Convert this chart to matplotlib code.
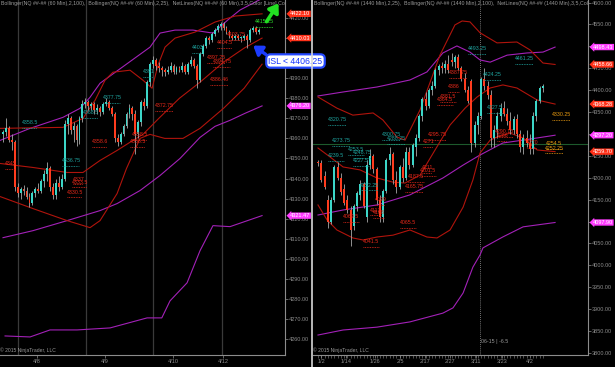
import matplotlib
matplotlib.use('Agg')
import matplotlib.pyplot as plt
from matplotlib.lines import Line2D
from matplotlib.ticker import FuncFormatter, MultipleLocator, FixedLocator
import numpy as np

plt.rcParams['font.family'] = ['Liberation Sans', 'DejaVu Sans']

# ---------------- data: 60 min panel (left) ----------------
l_open = [4362, 4363, 4365, 4359, 4358, 4336, 4333, 4335, 4334, 4331, 4328, 4333, 4335, 4334, 4339, 4342,
          4345, 4336, 4332, 4338, 4336, 4340, 4367, 4370, 4364, 4366, 4359, 4370, 4377, 4378, 4376, 4377,
          4374, 4375, 4373, 4377, 4378, 4375, 4372, 4360, 4358, 4362, 4366, 4372, 4375, 4372, 4362, 4368,
          4378, 4376, 4388, 4397, 4399, 4396, 4395, 4394, 4393, 4394, 4396, 4393, 4395, 4394, 4396, 4393,
          4397, 4399, 4396, 4389, 4402, 4406, 4410, 4409, 4412, 4414, 4416, 4417, 4415, 4413, 4411, 4410,
          4411, 4410, 4410, 4411, 4409, 4414, 4415, 4413]
l_high = [4364, 4370, 4366, 4362, 4359, 4338, 4336, 4337, 4336, 4333, 4334, 4336, 4338, 4340, 4344, 4348,
          4346, 4338, 4340, 4341, 4342, 4369, 4372, 4371, 4368, 4367, 4371, 4379, 4380, 4379, 4378, 4378,
          4377, 4376, 4378, 4380, 4379, 4376, 4373, 4362, 4363, 4367, 4373, 4377, 4376, 4374, 4369, 4379,
          4380, 4389, 4398, 4401, 4400, 4398, 4396, 4395, 4396, 4398, 4397, 4396, 4396, 4398, 4397, 4398,
          4401, 4400, 4397, 4403, 4407, 4411, 4411, 4413, 4415, 4417, 4418, 4418, 4416, 4414, 4412, 4412,
          4412, 4411, 4412, 4412, 4415, 4416, 4416, 4415]
l_low = [4358, 4361, 4358, 4354, 4334, 4331, 4330, 4332, 4330, 4326, 4327, 4331, 4333, 4333, 4336, 4339,
         4334, 4330, 4330, 4334, 4335, 4339, 4362, 4362, 4358, 4356, 4357, 4368, 4375, 4374, 4374, 4372,
         4372, 4371, 4372, 4376, 4374, 4371, 4358, 4356, 4357, 4361, 4365, 4370, 4369, 4352, 4360, 4366,
         4374, 4375, 4386, 4395, 4394, 4393, 4391, 4391, 4392, 4393, 4392, 4392, 4393, 4393, 4392, 4392,
         4396, 4395, 4385, 4388, 4401, 4405, 4407, 4408, 4411, 4413, 4414, 4414, 4412, 4410, 4409, 4409,
         4409, 4408, 4409, 4405, 4408, 4413, 4412, 4412]
l_close = [4363, 4365, 4359, 4358, 4336, 4333, 4335, 4334, 4331, 4328, 4333, 4335, 4334, 4339, 4342, 4345,
           4336, 4332, 4338, 4336, 4340, 4367, 4370, 4364, 4366, 4359, 4370, 4377, 4378, 4376, 4377, 4374,
           4375, 4373, 4377, 4378, 4375, 4372, 4360, 4358, 4362, 4366, 4372, 4375, 4372, 4362, 4368, 4378,
           4376, 4388, 4397, 4399, 4396, 4395, 4394, 4393, 4394, 4396, 4393, 4395, 4394, 4396, 4393, 4397,
           4399, 4396, 4389, 4402, 4406, 4410, 4409, 4412, 4414, 4416, 4417, 4415, 4413, 4411, 4410, 4411,
           4410, 4410, 4411, 4409, 4414, 4415, 4413, 4414]

# bollinger (2,100) purple and (2,25) red, read as (bar, price)
l_bb100_up = [(-1, 4359), (9.2, 4365), (20.4, 4370.5), (26.2, 4375), (29.6, 4380.5), (33, 4387.5), (41.5, 4396.5),
              (50, 4405.5), (53.4, 4412.5), (58.5, 4414), (64.6, 4414), (71.4, 4412.5), (77.2, 4420), (80.6, 4424), (88.4, 4430)]
l_bb100_mid = [(0, 4310.5), (10.2, 4314), (21.8, 4319), (33, 4324), (38.8, 4327.5), (46.6, 4334), (53.4, 4341.5),
               (60.2, 4350), (67, 4360.5), (72.1, 4366), (77.2, 4369), (82.3, 4372.5), (88.1, 4376.2)]
l_bb100_low = [(0.7, 4261.5), (9.2, 4261), (16, 4264.5), (25.2, 4264.5), (36.4, 4265.5), (49, 4270.5), (54, 4270.5),
               (56.8, 4279), (62.6, 4288), (67, 4304), (71.4, 4316.5), (77.2, 4316), (88.1, 4321.5)]
l_bb25_up = [(-1, 4365), (20.4, 4365.5), (27.2, 4370), (31.3, 4379), (34.7, 4389), (37.4, 4393), (43.2, 4394),
             (47.6, 4389), (50.7, 4385), (52.7, 4396.5), (55.1, 4405.5), (58.5, 4410), (65.3, 4413), (72.1, 4418),
             (78.9, 4421), (88.1, 4422.1)]
l_bb25_mid = [(-1, 4347.5), (10.2, 4345.5), (21.8, 4343), (27.2, 4343), (33, 4349), (38.8, 4354), (44.2, 4359),
              (47.6, 4362), (53, 4370), (60, 4380), (67, 4388), (75, 4398), (82, 4405), (88.1, 4410)]
l_bb25_low = [(-1, 4331), (10.2, 4325), (21.8, 4319), (29.6, 4315.5), (33, 4319), (38.8, 4332.5), (42, 4345),
              (46.6, 4360), (50, 4362), (55, 4360), (61.2, 4360), (67, 4365), (75, 4375), (82, 4385), (88.1, 4397)]

l_day_breaks = [5.1, 28.2, 51, 74.5]
l_date_pos = [11.6, 34.7, 57.8, 74.8]
l_date_txt = ['4/8', '4/9', '4/10', '4/12']

l_netlines = [  # (bar, price, text, colour)
    (85.7, 4417, '4415.25', 'g'), (76.2, 4410.5, '4403.75', 'r'), (72.8, 4406.5, '4404.5', 'r'),
    (69.4, 4399, '4397.25', 'r'), (71.4, 4397, '4394.75', 'r'), (64.3, 4404, '4403', 't'),
    (47.6, 4392, '4391', 't'), (70.4, 4388, '4386.46', 'r'), (34, 4379, '4377.75', 't'),
    (27.2, 4371.5, '4368.5', 't'), (51.7, 4375, '4372.75', 'r'), (6.5, 4366.5, '4358.5', 't'),
    (30.3, 4357, '4358.6', 'r'), (43.9, 4360.5, '4358.5', 'r'), (43.2, 4357, '4358.5', 'r'),
    (0.7, 4346, '4345', 'r'), (20, 4347.5, '4336.75', 't'), (23.8, 4338.5, '4337', 'r'),
    (23.5, 4337, '4333.5', 'r'), (21.8, 4332, '4330.5', 'r')]
l_flags = [(4422.10, 'r'), (4410.03, 'r'), (4376.20, 'm'), (4321.47, 'm')]

# ---------------- data: 1440 min panel (right) ----------------
r_open = [4236, 4234, 4205, 4150, 4100, 4150, 4225, 4200, 4175, 4150, 4127, 4090, 4135, 4160, 4185, 4110,
          4230, 4250, 4220, 4150, 4110, 4170, 4240, 4255, 4195, 4180, 4225, 4200, 4260, 4230, 4270, 4290,
          4340, 4380, 4365, 4400, 4410, 4445, 4455, 4450, 4460, 4470, 4465, 4475, 4450, 4425, 4400, 4420,
          4280, 4320, 4340, 4425, 4410, 4390, 4290, 4310, 4340, 4360, 4345, 4330, 4310, 4335, 4300, 4270,
          4290, 4280, 4265, 4340, 4375, 4405]
r_high = [4240, 4240, 4215, 4160, 4155, 4230, 4235, 4210, 4185, 4160, 4135, 4140, 4170, 4195, 4190, 4240,
          4265, 4255, 4225, 4160, 4175, 4245, 4270, 4260, 4215, 4230, 4245, 4270, 4270, 4280, 4300, 4345,
          4385, 4395, 4405, 4420, 4450, 4460, 4465, 4470, 4480, 4485, 4480, 4482, 4455, 4440, 4410, 4425,
          4330, 4350, 4430, 4450, 4420, 4400, 4320, 4350, 4370, 4375, 4360, 4350, 4340, 4345, 4310, 4300,
          4310, 4300, 4350, 4380, 4410, 4415]
r_low = [4228, 4190, 4175, 4085, 4095, 4145, 4195, 4160, 4138, 4120, 4045, 4080, 4125, 4150, 4130, 4100,
         4220, 4210, 4140, 4100, 4100, 4165, 4230, 4185, 4165, 4175, 4190, 4195, 4220, 4225, 4250, 4285,
         4330, 4355, 4360, 4390, 4405, 4435, 4440, 4440, 4440, 4455, 4450, 4445, 4420, 4395, 4370, 4260,
         4270, 4300, 4335, 4400, 4380, 4270, 4270, 4290, 4330, 4340, 4320, 4300, 4300, 4290, 4260, 4255,
         4270, 4255, 4255, 4330, 4370, 4395]
r_close = [4234, 4195, 4180, 4100, 4150, 4225, 4200, 4168, 4143, 4127, 4080, 4135, 4165, 4185, 4135, 4230,
           4250, 4220, 4150, 4110, 4170, 4240, 4255, 4195, 4180, 4225, 4200, 4260, 4230, 4275, 4290, 4340,
           4380, 4365, 4400, 4410, 4445, 4455, 4450, 4460, 4445, 4465, 4475, 4450, 4425, 4400, 4375, 4280,
           4320, 4340, 4425, 4410, 4390, 4290, 4310, 4340, 4360, 4345, 4330, 4310, 4335, 4300, 4270, 4290,
           4280, 4265, 4340, 4375, 4405, 4410]

r_bb100_up = [(0, 4386.8), (7.7, 4395.9), (18.1, 4407.3), (28.2, 4423.3), (33.4, 4441.6), (38.3, 4485), (42.6, 4501),
              (46.6, 4487), (49.7, 4469), (52.8, 4464), (58, 4480), (64.1, 4485), (69, 4487), (72.7, 4498.4)]
r_bb100_mid = [(0, 4115), (7.7, 4126.5), (18.1, 4138), (28.2, 4161), (38.3, 4199.5), (44.5, 4229), (49.7, 4252),
               (56.7, 4279.5), (62.9, 4286), (72.7, 4297.2)]
r_bb100_low = [(0, 3841), (7.7, 3852.5), (18.1, 3859), (28.2, 3871), (38.3, 3891), (41.4, 3903), (44.5, 3937),
               (47.5, 3996), (49.7, 4024), (50.6, 4040), (56.7, 4065), (62.9, 4088), (72.7, 4097.9)]
r_bb25_up = [(0, 4384.5), (5.8, 4359), (10.7, 4343), (16.9, 4348), (19.9, 4332), (24.2, 4293), (26.7, 4286),
             (31.3, 4355), (37.4, 4480), (42, 4549), (44.2, 4558), (46.6, 4556), (49.7, 4531), (54.9, 4508),
             (61, 4510), (65, 4492), (69, 4462), (72.7, 4458.7)]
r_bb25_mid = [(0, 4268), (3.7, 4247.5), (7.7, 4224.7), (12.9, 4218), (18.1, 4199.5), (23, 4190), (26.7, 4188),
              (31.3, 4206), (35.9, 4263.5), (40.5, 4320.5), (45.1, 4359), (48.8, 4384.5), (52.8, 4405),
              (56.7, 4412), (61, 4405), (67.2, 4377.6), (72.7, 4368.3)]
r_bb25_low = [(0, 4138), (2.8, 4103.7), (5.8, 4080.8), (10.7, 4062.6), (13.8, 4058), (18.1, 4064.8), (23, 4069),
              (28.2, 4080.8), (33.4, 4064.8), (36.5, 4062.6), (40.5, 4080.8), (44.5, 4133), (47.5, 4195),
              (49.7, 4256.6), (52.8, 4286), (54.9, 4293), (58.9, 4302), (62.9, 4291), (67.2, 4263.5), (72.7, 4259.7)]

r_date_pos = [0.9, 8.6, 17.5, 25.2, 32.8, 40.5, 48.5, 56.4, 65]
r_date_txt = ['1/2', '1/14', '1/26', '2/5', '2/17', '2/27', '3/11', '3/23', '4/2']

r_netlines = [
    (46, 4489.5, '4493.25', 't'), (60.4, 4466.7, '4461.25', 't'), (50.6, 4430, '4424.25', 't'),
    (40.2, 4434.7, '4387.75', 'r'), (39.9, 4402.7, '4386', 'r'), (37.4, 4380, '4381.5', 'r'),
    (36.5, 4373, '4364.5', 'r'), (51.8, 4354.8, '4327.5', 't'), (71.8, 4338.8, '4330.25', 'o'),
    (3.1, 4327.4, '4320.75', 't'), (19.6, 4293, '4300.75', 't'), (21.2, 4284, '4288.25', 't'),
    (4.3, 4279.5, '4273.75', 't'), (33.7, 4293, '4295.75', 'r'), (32.2, 4277, '4271', 'r'),
    (9.2, 4259, '4253.5', 't'), (10.7, 4252, '4248.75', 't'), (3.1, 4245, '4239.5', 't'),
    (10.7, 4234, '4227.5', 't'), (31.9, 4218, '4211', 'r'), (31.3, 4211, '4201.5', 'r'),
    (27.6, 4197, '4187.5', 'r'), (26.7, 4174, '4165.75', 'r'), (12.9, 4177, '4152.25', 't'),
    (17.5, 4145, '4099', 'r'), (16, 4120, '4113', 'r'), (16.9, 4115, '4108', 'r'),
    (7.7, 4106, '4069.5', 'r'), (25.2, 4092, '4065.5', 'r'), (13.8, 4049, '4041.5', 'r'),
    (54.3, 4300, '4290.13', 'r'), (54.9, 4291, '4286', 'r'), (64, 4275, '4270', 'r'),
    (70, 4272, '4254.5', 'o'), (69.6, 4262, '4252.25', 'o')]
r_flags = [(4498.43, 'm'), (4458.66, 'r'), (4368.28, 'r'), (4297.20, 'm'), (4259.70, 'r'), (4097.90, 'm')]

UP, DOWN, WICK = '#3cd6c8', '#ff3c1e', '#a8a8a8'
PURPLE, DRED = '#a321b8', '#b0140c'
COLS = {'r': '#e8281a', 't': '#1fa5a0', 'g': '#2ee02e', 'o': '#e89a10', 'm': '#ff3cff'}
FLAGC = {'r': '#ff3018', 'm': '#ff3cff'}
AXC = '#8c8c8c'

W, H = 615, 367
fig = plt.figure(figsize=(W / 100, H / 100), dpi=100, facecolor='black')


def axes_px(x0, y0, x1, y1):
    ax = fig.add_axes([x0 / W, 1 - y1 / H, (x1 - x0) / W, (y1 - y0) / H])
    ax.set_facecolor('black')
    for s in ('top', 'left'):
        ax.spines[s].set_visible(False)
    for s in ('right', 'bottom'):
        ax.spines[s].set_color(AXC)
        ax.spines[s].set_linewidth(0.8)
    ax.yaxis.tick_right()
    ax.tick_params(axis='y', colors=AXC, labelsize=4, length=2, width=0.5, pad=1)
    ax.tick_params(axis='x', colors=AXC, labelsize=4, length=2, width=0.5, pad=1)
    ax.yaxis.set_major_formatter(FuncFormatter(lambda v, p: '%.2f' % v))
    return ax


def candles(ax, o, h, l, c, width):
    x = np.arange(len(o))
    o, h, l, c = map(np.asarray, (o, h, l, c))
    ax.vlines(x, l, h, color=WICK, lw=0.6, zorder=3)
    up = c >= o
    body = np.maximum(np.abs(c - o), (h.max() - l.min()) * 0.004)
    ax.bar(x[up], body[up], bottom=np.minimum(o, c)[up], width=width, color=UP, lw=0, zorder=4)
    ax.bar(x[~up], body[~up], bottom=np.minimum(o, c)[~up], width=width, color=DOWN, lw=0, zorder=4)


def band(ax, pts, color):
    xs, ys = zip(*pts)
    ax.plot(xs, ys, color=color, lw=0.8, zorder=2)


def netlines(ax, items, charw, drop):
    for x, p, t, k in items:
        ax.text(x, p, t, color=COLS[k], fontsize=3.8, ha='left', va='bottom', zorder=5, clip_on=True)
        ax.hlines(p - drop, x, x + len(t) * charw, color=COLS[k], lw=0.6, linestyles=(0, (1, 1)), zorder=5)


def flags(ax, items):
    for p, k in items:
        ax.annotate('%.2f' % p, xy=(1.0, p), xycoords=('axes fraction', 'data'), xytext=(3.5, 0),
                    textcoords='offset points', ha='left', va='center', fontsize=4, color='white',
                    bbox=dict(boxstyle='larrow,pad=0.12', fc=FLAGC[k], ec='none'),
                    annotation_clip=False, zorder=10)


def legend(ax, text):
    ax.text(0.004, 0.997, text, transform=ax.transAxes, fontsize=3.8, color='#9a9a9a',
            va='top', ha='left', clip_on=True, zorder=6)
    ax.text(0.0, 0.006, '\u00a9 2015 NinjaTrader, LLC', transform=ax.transAxes, fontsize=3.6,
            color='#9a9a9a', va='bottom', ha='left', zorder=6)


# ---------------- left panel ----------------
axl = axes_px(0, 0, 285, 355)
axl.set_xlim(-1.02, 95.9)
axl.set_ylim(4252, 4429)
axl.yaxis.set_major_locator(MultipleLocator(10))
axl.set_xticks(l_date_pos)
axl.set_xticklabels(l_date_txt)
for d in l_day_breaks:
    axl.axvline(d, color='#3a3a3a', lw=0.9, zorder=1)
band(axl, l_bb100_up, PURPLE)
band(axl, l_bb100_mid, PURPLE)
band(axl, l_bb100_low, PURPLE)
band(axl, l_bb25_up, DRED)
band(axl, l_bb25_mid, DRED)
band(axl, l_bb25_low, DRED)
candles(axl, l_open, l_high, l_low, l_close, 0.62)
netlines(axl, l_netlines, 0.85, 1.3)
flags(axl, l_flags)
legend(axl, 'Bollinger(NQ ##-## (60 Min),2,100),  Bollinger(NQ ##-## (60 Min),2,25),  '
            'NetLines(NQ ##-## (60 Min),3,5,Color [Line],Color [D')

# ---------------- right panel ----------------
axr = axes_px(313, 0, 588, 355)
axr.set_xlim(-1.53, 82.8)
axr.set_ylim(3795.4, 4605.9)
axr.yaxis.set_major_locator(MultipleLocator(50))
axr.set_xticks(r_date_pos)
axr.set_xticklabels(r_date_txt)
axr.xaxis.set_minor_locator(FixedLocator(np.arange(0, 70)))
axr.tick_params(axis='x', which='minor', colors=AXC, length=2, width=0.4)
band(axr, r_bb100_up, PURPLE)
band(axr, r_bb100_mid, PURPLE)
band(axr, r_bb100_low, PURPLE)
band(axr, r_bb25_up, DRED)
band(axr, r_bb25_mid, DRED)
band(axr, r_bb25_low, DRED)
candles(axr, r_open, r_high, r_low, r_close, 0.62)
netlines(axr, r_netlines, 0.8, 6)
flags(axr, r_flags)
legend(axr, 'Bollinger(NQ ##-## (1440 Min),2,25),  Bollinger(NQ ##-## (1440 Min),2,100),  '
            'NetLines(NQ ##-## (1440 Min),3,5,Color [L')
# crosshair
axr.axhline(4277, color='#1d5a2c', lw=0.8, zorder=1)
axr.axvline(49.7, color='#9a9a9a', lw=0.6, ls=(0, (1, 1.5)), zorder=1)
axr.text(50.0, 3820, '06-15 | -6.5', fontsize=3.8, color='#9a9a9a', ha='left', va='bottom')

# panel separator
fig.add_artist(Line2D([312 / W, 312 / W], [0, 1], color='#d8d8d8', lw=1.2))

# ---------------- annotations (figure pixel space) ----------------
ov = fig.add_axes([0, 0, 1, 1])
ov.set_xlim(0, W)
ov.set_ylim(H, 0)
ov.axis('off')
ov.patch.set_alpha(0)
ov.annotate('', xy=(280, 1), xytext=(265, 24),
            arrowprops=dict(arrowstyle='-|>,head_width=0.35,head_length=0.5', color='#22e022', lw=2.6))
ov.annotate('', xy=(251, 44), xytext=(268, 56),
            arrowprops=dict(arrowstyle='-|>,head_width=0.35,head_length=0.5', color='#1c3cff', lw=2.4))
ov.text(295.5, 61, 'ISL < 4406.25', ha='center', va='center', fontsize=6.3, color='#1535ff',
        bbox=dict(boxstyle='round,pad=0.25,rounding_size=0.5', fc='white', ec='#2448ff', lw=1.6), zorder=20)

fig.savefig('out.png', dpi=100, facecolor='black')
